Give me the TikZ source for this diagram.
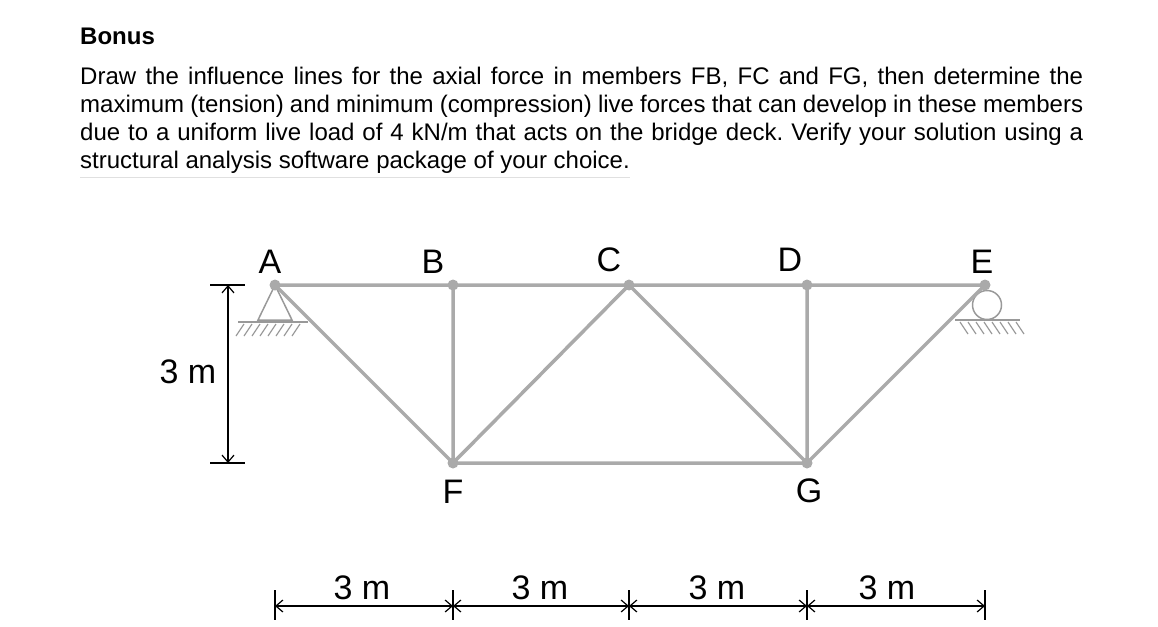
\documentclass[tikz,border=0pt]{standalone}
\usepackage{fontspec}
\setmainfont{Liberation Sans}
\usetikzlibrary{arrows.meta}
\definecolor{mem}{RGB}{170,170,170}
\frenchspacing
\begin{document}
\begin{tikzpicture}[x=1pt,y=-1pt,
  member/.style={draw=mem,line width=3.5pt},
  joint/.style={circle,fill=mem,inner sep=0,minimum size=11pt},
  lbl/.style={font=\fontsize{34}{36}\selectfont,inner sep=0},
  txt/.style={anchor=base west,inner sep=0,font=\fontsize{24}{26}\selectfont},
  dim/.style={draw,line width=1.2pt,{Straight Barb[length=7pt,width=12pt]}-{Straight Barb[length=7pt,width=12pt]}},
  sup/.style={draw=mem!90!black,line width=1.5pt},
  hatch/.style={draw=mem!90!black,line width=1.2pt}]
\useasboundingbox (0,0) rectangle (1158,626);
\node[txt,font=\fontsize{24}{26}\selectfont\bfseries] (t0) at (80,45) {Bonus};
\node[txt] (t1) at (80,84) {\hbox to 1003pt{Draw the influence lines for the axial force in members FB, FC and FG, then determine the}};
\node[txt] (t2) at (80,112) {\hbox to 1003pt{maximum (tension) and minimum (compression) live forces that can develop in these members}};
\node[txt] (t3) at (80,140) {\hbox to 1003pt{due to a uniform live load of 4 kN/m that acts on the bridge deck. Verify your solution using a}};
\node[txt] (t4) at (80,168) {structural analysis software package of your choice.};
\draw[black!12,line width=1pt] (t4.south west)++(0,4) coordinate (u1) -- (t4.south east|-u1);
% joints
\coordinate (A) at (275,285); \coordinate (B) at (453,285); \coordinate (C) at (629,285);
\coordinate (D) at (807,285); \coordinate (E) at (985,285); \coordinate (F) at (453,463); \coordinate (G) at (807,463);
% supports
\draw[sup] (A) -- (258,320) -- (292,320) -- cycle;
\draw[hatch] (238,322) -- (308,322);
\foreach \x in {244,252,...,304} \draw[hatch] (\x,324) -- (\x-8,336);
\node[circle,draw=mem!90!black,line width=1.5pt,minimum size=29pt,inner sep=0] (roll) at (987,305) {};
\draw[hatch] (955,320) -- (1020,320);
\foreach \x in {960,968,...,1016} \draw[hatch] (\x,322) -- (\x+8,334);
% members
\draw[member] (A) -- (E) (F) -- (G) (A) -- (F) -- (B) (F) -- (C) -- (G) -- (D) (G) -- (E);
\foreach \p in {A,B,C,D,E,F,G} \node[joint] (j\p) at (\p) {};
% labels
\node[lbl] (lA) at (270,262) {A};
\node[lbl] (lB) at (433,262) {B};
\node[lbl] (lC) at (609,260) {C};
\node[lbl] (lD) at (790,260) {D};
\node[lbl] (lE) at (982,262) {E};
\node[lbl] (lF) at (453,492) {F};
\node[lbl] (lG) at (809,491) {G};
% vertical dim
\draw[line width=1.2pt] (210,285) -- (245,285) (210,463) -- (245,463);
\coordinate (v1) at (228,285); \coordinate (v2) at (228,463);
\draw[dim] (v1) -- (v2);
\node[lbl] (vl) at (188,372) {3 m};
% horizontal dims
\foreach \x in {275,453,629,807,985} \draw[line width=1.2pt] (\x,590) -- (\x,620);
\foreach \a/\b/\m in {275/453/362,453/629/540,629/807/717,807/985/887}{
  \coordinate (h1) at (\a,606); \coordinate (h2) at (\b,606);
  \draw[dim] (h1) -- (h2);
  \node[lbl] at (\m,588) {3 m};}
\end{tikzpicture}
\end{document}
